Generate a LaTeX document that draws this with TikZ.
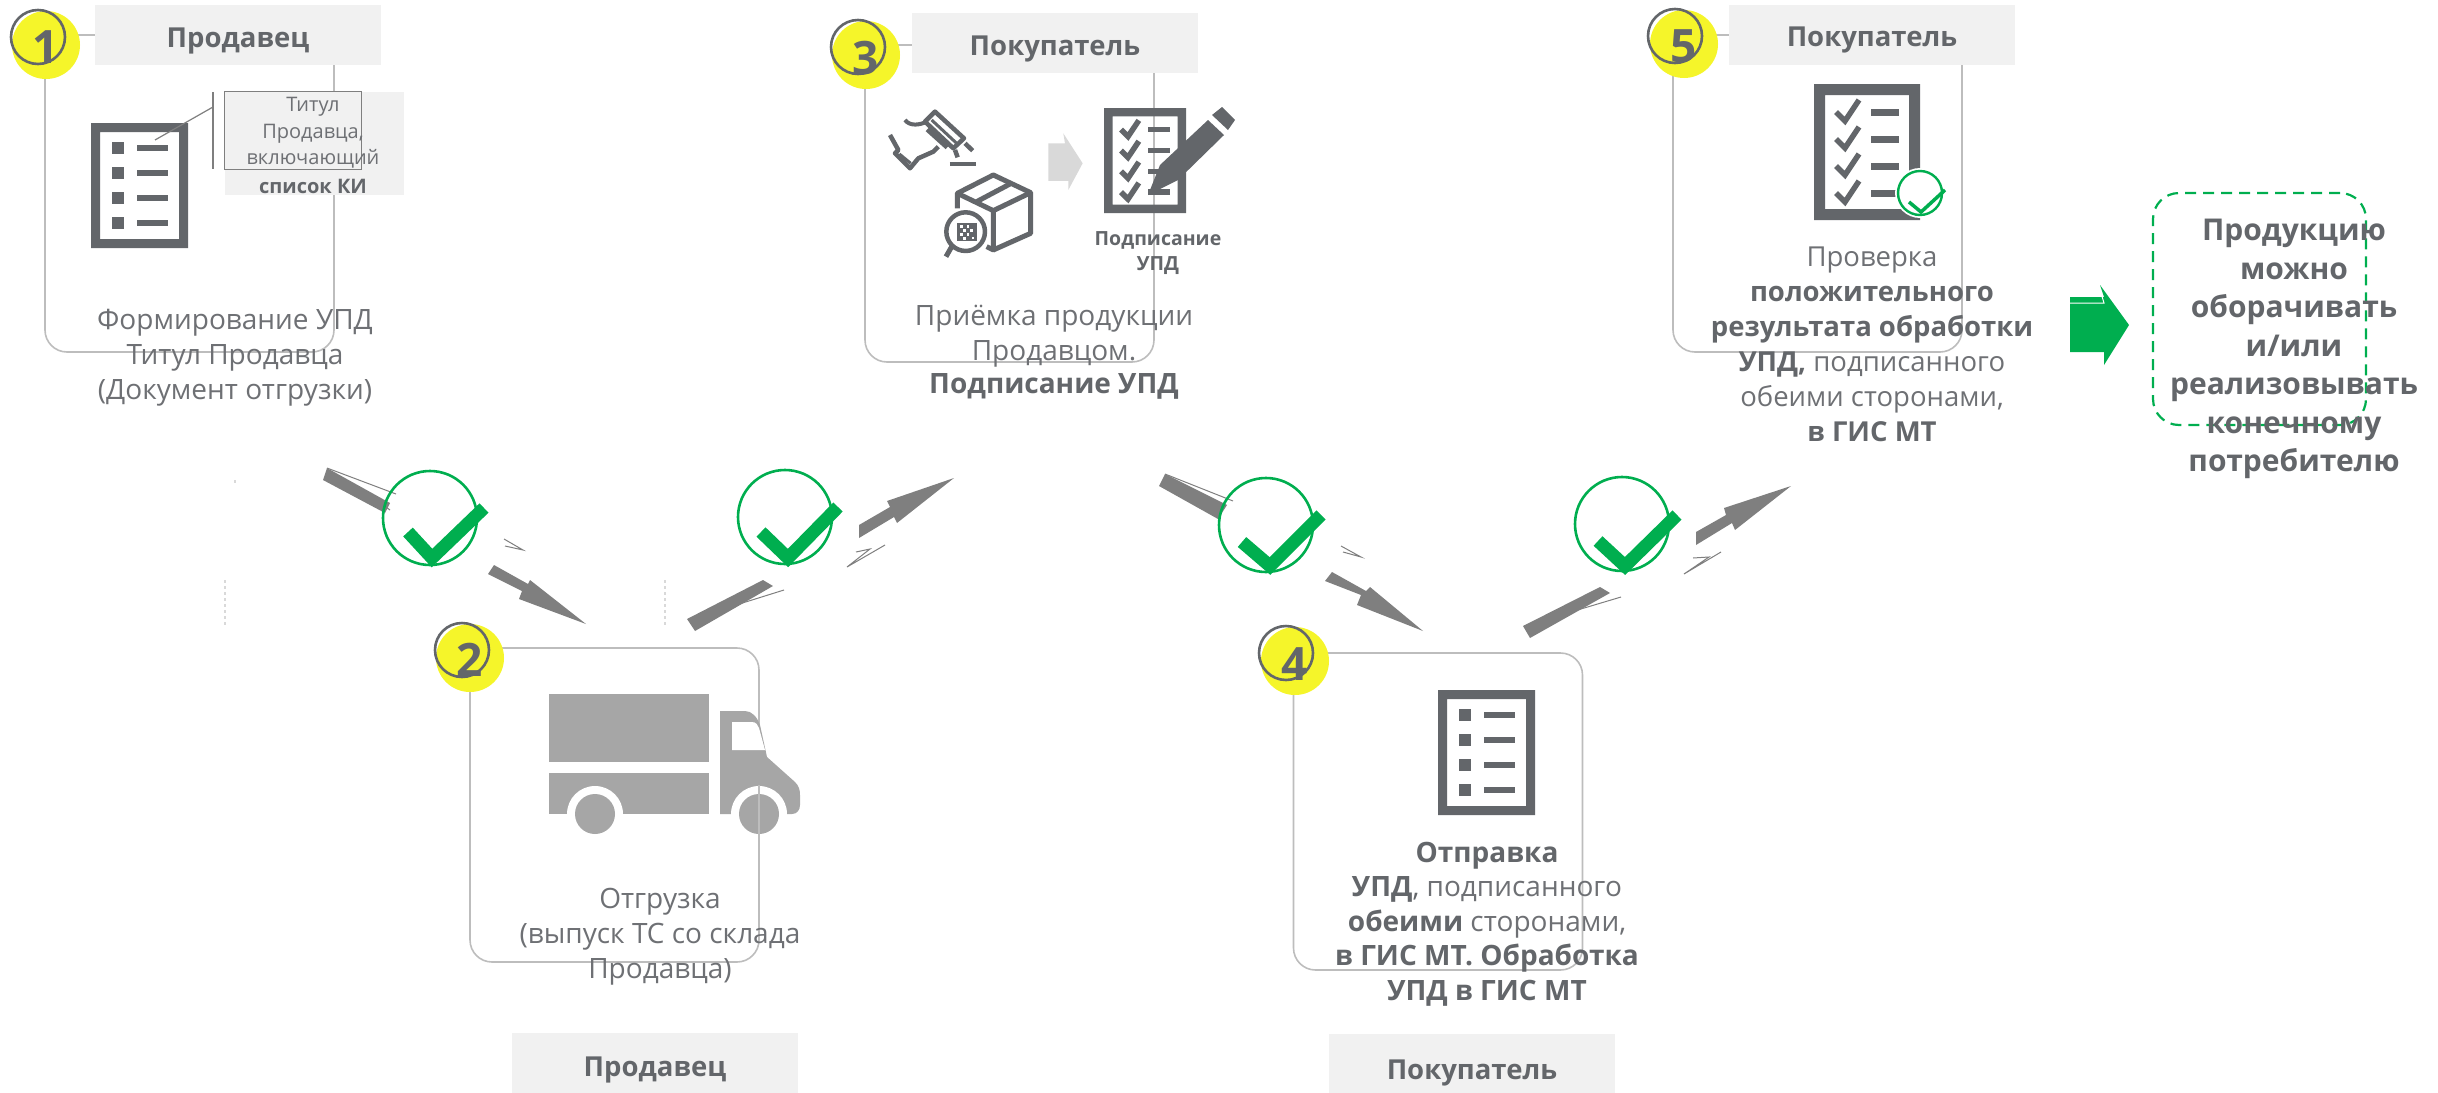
\documentclass[tikz,border=0pt]{standalone}
\usepackage{fontspec}
\setmainfont{Open Sans}
\definecolor{ink}{HTML}{63666A}
\definecolor{softink}{HTML}{6E7074}
\definecolor{panelline}{HTML}{BDBDBD}
\definecolor{headfill}{HTML}{F1F1F1}
\definecolor{marker}{HTML}{F5F52A}
\definecolor{okgreen}{HTML}{00AE4F}
\definecolor{arrowgray}{HTML}{7F7F7F}
\definecolor{truckgray}{HTML}{A6A6A6}
\tikzset{
 panelbox/.style={draw=panelline,line width=1.6pt,rounded corners=22pt,inner sep=0pt,fill=white},
 head/.style={fill=headfill,inner sep=0pt,text=ink,font=\fontsize{27.5}{32}\selectfont\bfseries,minimum width=286pt,minimum height=60pt},
 yellowdot/.style={circle,fill=marker,minimum size=68pt,inner sep=0pt},
 ringdot/.style={circle,draw=ink,line width=2.6pt,minimum size=54pt,inner sep=0pt},
 numtxt/.style={text=ink,font=\fontsize{46}{46}\selectfont\bfseries,inner sep=0pt},
 body/.style={text=softink,align=center,inner sep=0pt,font=\fontsize{28}{35}\selectfont},
 boldbody/.style={text=ink,align=center,inner sep=0pt,font=\fontsize{28}{38}\selectfont\bfseries},
 smalltxt/.style={text=softink,align=center,inner sep=0pt},
 okcircle/.style={circle,draw=okgreen,line width=2.6pt,minimum size=94pt,inner sep=0pt},
 oktick/.style={draw=okgreen,line width=13pt,miter limit=10},
 frag/.style={fill=arrowgray},
 thinfrag/.style={draw=arrowgray,line width=1pt},
 ghost/.style={draw=black!15,line width=1.2pt,dashed},
}
\newcommand{\lowered}[2]{\raisebox{\dimexpr -7.5pt-#1pt\relax}[0pt][0pt]{#2}}
\newcommand{\docicon}[4]{% x y xscale yscale
 \begin{scope}[shift={(#1,#2)},xscale=#3,yscale=#4]
  \fill[ink,even odd rule] (0,0) rectangle (97,125) (9,9) rectangle (88,116);
  \foreach \yy in {25,50,75,100}{
   \fill[ink] (21,\yy-6) rectangle (33,\yy+6);
   \fill[ink] (46,\yy-3) rectangle (77,\yy+3);
  }
 \end{scope}}
\newcommand{\checkdoc}[4]{% x y xscale yscale
 \begin{scope}[shift={(#1,#2)},xscale=#3,yscale=#4]
  \fill[ink,even odd rule] (0,0) rectangle (106,136) (11,11) rectangle (95,125);
  \foreach \yy in {28,55,82,109}{
   \draw[ink,line width=5.5pt] (22,\yy) -- (31,\yy+9) -- (45,\yy-12);
   \fill[ink] (57,\yy-3.5) rectangle (85,\yy+3.5);
  }
 \end{scope}}
\begin{document}
\begin{tikzpicture}[x=1pt,y=-1pt]
\useasboundingbox (0,0) rectangle (2438,1092);
% panels
\node[panelbox,minimum width=289pt,minimum height=317pt] (p1) at (189.5,193.5) {};
\node[panelbox,minimum width=289pt,minimum height=317pt] (p3) at (1009.5,203.5) {};
\node[panelbox,minimum width=289pt,minimum height=317pt] (p5) at (1817.5,193.5) {};
\node[panelbox,minimum width=289pt,minimum height=314pt] (p2) at (614.5,805) {};
\node[panelbox,minimum width=289pt,minimum height=317pt] (p4) at (1438,811.5) {};
% headers
\node[head] (h1) at (238,35) {\lowered{5}{Продавец}};
\node[head] (h3) at (1055,43) {\lowered{5}{Покупатель}};
\node[head] (h5) at (1872,35) {\lowered{4}{Покупатель}};
\node[head] (h2) at (655,1063) {\lowered{6}{Продавец}};
\node[head] (h4) at (1472,1064) {\lowered{8}{Покупатель}};
% markers
\node[yellowdot] (y1) at (46,45) {};
\node[yellowdot] (y2) at (470,658) {};
\node[yellowdot] (y3) at (866,55) {};
\node[yellowdot] (y4) at (1295,661) {};
\node[yellowdot] (y5) at (1684,44) {};
\node[numtxt] (n1) at (46,47) {1};
\node[numtxt] (n2) at (470,660) {2};
\node[numtxt] (n3) at (866,58) {3};
\node[numtxt] (n4) at (1295,664) {4};
\node[numtxt] (n5) at (1684,46) {5};
\node[ringdot] (r1) at (38,37) {};
\node[ringdot] (r2) at (462,650) {};
\node[ringdot] (r3) at (858,47) {};
\node[ringdot] (r4) at (1286,653) {};
\node[ringdot] (r5) at (1675,36) {};
% icon 1 + callout
\docicon{91}{123}{1}{1}
\node[fill=headfill,minimum width=179pt,minimum height=103pt,inner sep=0pt] (cb) at (314.5,143.5) {};
\node[draw=arrowgray,line width=1.4pt,minimum width=137pt,minimum height=78pt,inner sep=0pt] (cf) at (293,130.5) {};
\coordinate (la) at (213,92);
\coordinate (lb) at (213,169);
\coordinate (lc) at (213,107);
\coordinate (ld) at (155,140);
\draw[arrowgray,line width=1.2pt] (la) -- (lb);
\draw[arrowgray,line width=1.2pt] (lc) -- (ld);
\node[smalltxt,font=\fontsize{20}{26}\selectfont] (ct) at (313,133) {Титул\\[1pt]Продавца,\\включающий};
\node[smalltxt,font=\fontsize{20}{26}\selectfont\bfseries,text=ink] (ck) at (313,186) {список КИ};
\node[body] (t1) at (235,358) {Формирование УПД\\Титул Продавца\\(Документ отгрузки)};
% panel 3 icons
\begin{scope}[shift={(820,0)},x=.3333pt,y=-.3333pt,ink,line width=4pt,line join=round]
 \draw[line width=4.5pt] (345,335) -- (432,415) -- (400,445) -- (315,365) -- cycle;
 \draw[line width=5pt] (322,388) -- (382,442);
 \draw[line width=3pt] (335,360) -- (410,430);
 \draw (255,360) .. controls (270,380) and (300,375) .. (320,365);
 \draw[line width=4.5pt] (210,405) -- (235,450) -- (225,460) -- (270,505) -- (295,475) -- (340,455) -- (355,440);
 \draw[line width=3pt] (238,462) -- (272,490);
 \draw[line width=4.5pt] (405,450) -- (413,472);
 \draw[line width=4.5pt] (435,430) -- (458,452);
 \draw[line width=4.5pt] (390,492) -- (468,492);
 \draw[line width=5pt] (520,750) -- (632,700) -- (632,578) -- (520,525) -- (412,580) -- (412,625);
 \draw[line width=5pt] (412,580) -- (520,632) -- (632,578);
 \draw[line width=5pt] (520,632) -- (520,750) -- (500,740);
 \draw[line width=5pt] (470,605) -- (570,552);
 \draw[line width=4.5pt,fill=white] (437,695) circle [radius=58];
 \draw[line width=5pt] (398,735) -- (378,770);
 \fill[ink] (412,668) rectangle (470,722);
 \foreach \qx/\qy in {420/675,440/675,430/688,450/688,420/700,440/700,455/710,430/712}{\fill[white] (\qx,\qy) rectangle +(8,8);}
 \fill[black!15] (685,430) -- (735,430) -- (730,400) -- (788,490) -- (745,570) -- (745,543) -- (685,543) -- cycle;
\end{scope}
\checkdoc{1104}{108}{.7736}{.7721}
\fill[ink] (1222,107) -- (1235,120) -- (1228,130) -- (1212,115) -- cycle;
\fill[ink] (1208,120) -- (1224,135) -- (1178,180) -- (1148,195) -- (1160,165) -- cycle;
\node[smalltxt,font=\fontsize{19.5}{25}\selectfont\bfseries,text=ink] (t3i) at (1158,253) {Подписание\\УПД};
\node[body] (t3a) at (1054,336) {Приёмка продукции\\Продавцом.};
\node[boldbody] (t3b) at (1054,386) {Подписание УПД};
% truck
\fill[truckgray] (549,694) rectangle (709,762);
\fill[truckgray] (549,773) rectangle (709,814);
\fill[truckgray] (720,814) -- (720,711) -- (745,711) .. controls (752,711) and (757,717) .. (760,725) -- (767,757) -- (795,782) .. controls (799,786) and (800,790) .. (800,795) -- (800,805) .. controls (800,810) and (797,814) .. (792,814) -- cycle;
\fill[white] (732,722) -- (752,722) .. controls (756,722) and (758,725) .. (759,728) -- (765,750) -- (732,750) -- cycle;
\begin{scope}
 \clip (540,690) rectangle (810,814);
 \fill[white] (595,814) circle [radius=28];
 \fill[white] (759,814) circle [radius=28];
\end{scope}
\fill[truckgray] (595,814) circle [radius=20];
\fill[truckgray] (759,814) circle [radius=20];
\draw[panelline,line width=1.6pt] (759,785) -- (759,834);
\node[body] (t2) at (660,937) {Отгрузка\\(выпуск ТС со склада\\Продавца)};
% panel 4
\docicon{1438}{690}{1}{1}
\node[align=center,inner sep=0pt,text=ink,font=\fontsize{28}{34.5}\selectfont] (t4) at (1487,924) {\textbf{Отправка}\\\textbf{УПД}, {\color{softink}подписанного}\\\textbf{обеими} {\color{softink}сторонами,}\\\textbf{в ГИС МТ. Обработка}\\\textbf{УПД в ГИС МТ}};
% panel 5
\checkdoc{1814}{84}{1}{1}
\fill[white] (1920,193) circle [radius=25];
\node[circle,draw=okgreen,line width=2.4pt,minimum size=44pt,inner sep=0pt] (g5) at (1920,193) {};
\draw[okgreen,line width=3.5pt] (1909,202) -- (1921,212) -- (1945,190);
\node[align=center,inner sep=0pt,text=ink,font=\fontsize{27.5}{35}\selectfont] (t5) at (1872,344) {{\color{softink}Проверка}\\\textbf{положительного}\\\textbf{результата обработки}\\\textbf{УПД,} {\color{softink}подписанного}\\{\color{softink}обеими сторонами,}\\\textbf{в ГИС МТ}};
% final
\fill[okgreen] (2070,297) -- (2104,297) -- (2100,285) -- (2129,325) -- (2104,365) -- (2104,352) -- (2070,352) -- cycle;
\draw[white,line width=1pt] (2070,303) -- (2104,303) -- (2100,290);
\node[draw=okgreen,dashed,line width=2.2pt,dash pattern=on 11pt off 7pt,rounded corners=26pt,minimum width=213pt,minimum height=232pt,inner sep=0pt] (fin) at (2259.5,309) {};
\node[boldbody,font=\fontsize{30}{38.5}\selectfont\bfseries] (t6) at (2294,349) {Продукцию\\можно\\оборачивать\\и/или\\реализовывать\\конечному\\потребителю};
% arrows, group A
\draw[ghost] (235,480) -- (235,486);
\draw[ghost] (225,580) -- (225,626);
\draw[ghost] (665,580) -- (665,626);
\fill[frag] (323,480) -- (327,468) -- (390,503) -- (385,513) -- cycle;
\draw[thinfrag] (327,468) -- (396,494) (370,495) -- (390,510);
\draw[thinfrag] (504,539) -- (523,550) -- (505,546);
\fill[frag] (494,565) -- (528,584) -- (530,580) -- (586,624) -- (519,599) -- (522,591) -- (488,574) -- cycle;
\fill[frag] (859,525) -- (890,507) -- (887,501) -- (954,478) -- (897,523) -- (894,517) -- (859,538) -- cycle;
\draw[thinfrag] (885,545) -- (847,567) -- (870,549) -- (856,552);
\fill[frag] (763,580) -- (773,586) -- (695,631) -- (687,619) -- cycle;
\draw[thinfrag] (688,620) -- (784,590);
% arrows, group B
\fill[frag] (1159,486) -- (1165,474) -- (1227,505) -- (1218,519) -- cycle;
\draw[thinfrag] (1165,474) -- (1233,501);
\draw[thinfrag] (1341,546) -- (1361,557) -- (1343,552);
\fill[frag] (1332,572) -- (1366,591) -- (1370,587) -- (1423,631) -- (1357,605) -- (1361,595) -- (1325,581) -- cycle;
\fill[frag] (1696,532) -- (1726,515) -- (1724,508) -- (1791,486) -- (1735,530) -- (1732,523) -- (1696,545) -- cycle;
\draw[thinfrag] (1721,552) -- (1684,574) -- (1709,557) -- (1693,558);
\fill[frag] (1600,587) -- (1610,593) -- (1530,638) -- (1523,626) -- cycle;
\draw[thinfrag] (1524,626) -- (1621,597);
% ticks
\node[okcircle] (c1) at (430,518) {};
\node[okcircle] (c2) at (785,517) {};
\node[okcircle] (c3) at (1266,525) {};
\node[okcircle] (c4) at (1622,524) {};
\draw[oktick] (408,532) -- (432,558) -- (484,508);
\draw[oktick] (761,532) -- (788,558) -- (838,507);
\draw[oktick] (1242,542) -- (1270,566) -- (1321,515);
\draw[oktick] (1598,541) -- (1625,566) -- (1677,515);
\end{tikzpicture}
\end{document}
